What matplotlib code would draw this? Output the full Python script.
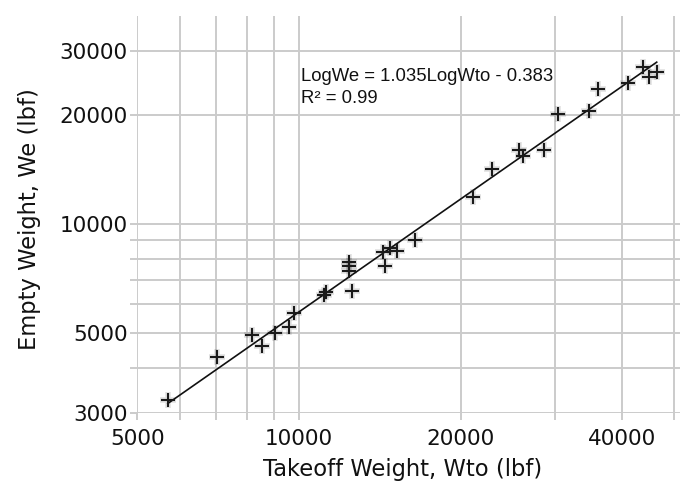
import numpy as np
import matplotlib
matplotlib.use("Agg")
import matplotlib.pyplot as plt

# Data (log-log scatter)
wto = [5700, 7050, 8180, 8520, 9020, 9590, 9800, 11150, 11250,
       12400, 12400, 12400, 12540, 14340, 14470, 14780, 15230, 16440,
       21070, 22860, 25690, 26170, 28640, 30330, 34730, 36090, 41050,
       43770, 44910, 46370]
we = [3270, 4300, 4930, 4600, 5000, 5180, 5670, 6350, 6500,
      7850, 7630, 7410, 6510, 8370, 7630, 8580, 8420, 9030,
      11890, 14180, 16000, 15430, 16000, 20100, 20500, 23520, 24440,
      27160, 25480, 26200]

slope = 1.035
intercept = -0.383
eq_text = "LogWe = 1.035LogWto - 0.383"
r2_text = "R² = 0.99"

x_grid = [5000, 6000, 7000, 8000, 9000, 10000, 20000, 30000, 40000, 50000]
x_labeled = [5000, 10000, 20000, 40000]
y_grid = [3000, 4000, 5000, 6000, 7000, 8000, 9000, 10000, 20000, 30000]
y_labeled = [3000, 5000, 10000, 20000, 30000]

xlabel = "Takeoff Weight, Wto (lbf)"
ylabel = "Empty Weight, We (lbf)"

fig = plt.figure(figsize=(6.8, 4.91), dpi=100)
ax = fig.add_axes([137.3 / 680, 77.7 / 491, (680 - 137.3) / 680, (413.3 - 16) / 491])
ax.set_xscale("log")
ax.set_yscale("log")
ax.set_xlim(5000, 51240)
ax.set_ylim(3000, 37500)

for s in ax.spines.values():
    s.set_visible(False)

gcol = "#cbcbcb"
ax.set_xticks(x_grid)
ax.set_xticklabels([str(v) if v in x_labeled else "" for v in x_grid])
ax.set_yticks(y_grid)
ax.set_yticklabels([str(v) if v in y_labeled else "" for v in y_grid])
ax.xaxis.set_minor_locator(matplotlib.ticker.NullLocator())
ax.yaxis.set_minor_locator(matplotlib.ticker.NullLocator())
ax.grid(True, color=gcol, linewidth=1.4)
ax.set_axisbelow(True)
ax.tick_params(axis="both", length=5, width=1.4, color=gcol, labelsize=15.5,
               labelcolor="#111111")
ax.tick_params(axis="x", pad=6)
ax.tick_params(axis="y", pad=2)

# trend line
xl = np.array([min(wto), max(wto)])
ax.plot(xl, 10 ** (slope * np.log10(xl) + intercept), color="#111111", lw=1.2, zorder=3)

# blurred plus markers
ax.plot(wto, we, linestyle="none", marker="+", markersize=11, mew=4,
        color="#000000", alpha=0.12, zorder=4)
ax.plot(wto, we, linestyle="none", marker="+", markersize=10.5, mew=1.5,
        color="#1a1a1a", zorder=5)

ax.set_xlabel(xlabel, fontsize=16.3, color="#111111")
ax.set_ylabel(ylabel, fontsize=16.3, color="#111111")
ax.xaxis.set_label_coords(0.488, -0.113)
ax.yaxis.set_label_coords(-0.177, 0.489)

fig.text(301 / 680, 1 - 81 / 491, eq_text, fontsize=13.3, family="Liberation Sans",
         color="#111111", va="baseline")
fig.text(301 / 680, 1 - 103 / 491, r2_text, fontsize=13.3, family="Liberation Sans",
         color="#111111", va="baseline")

fig.savefig("out.png", dpi=100)
